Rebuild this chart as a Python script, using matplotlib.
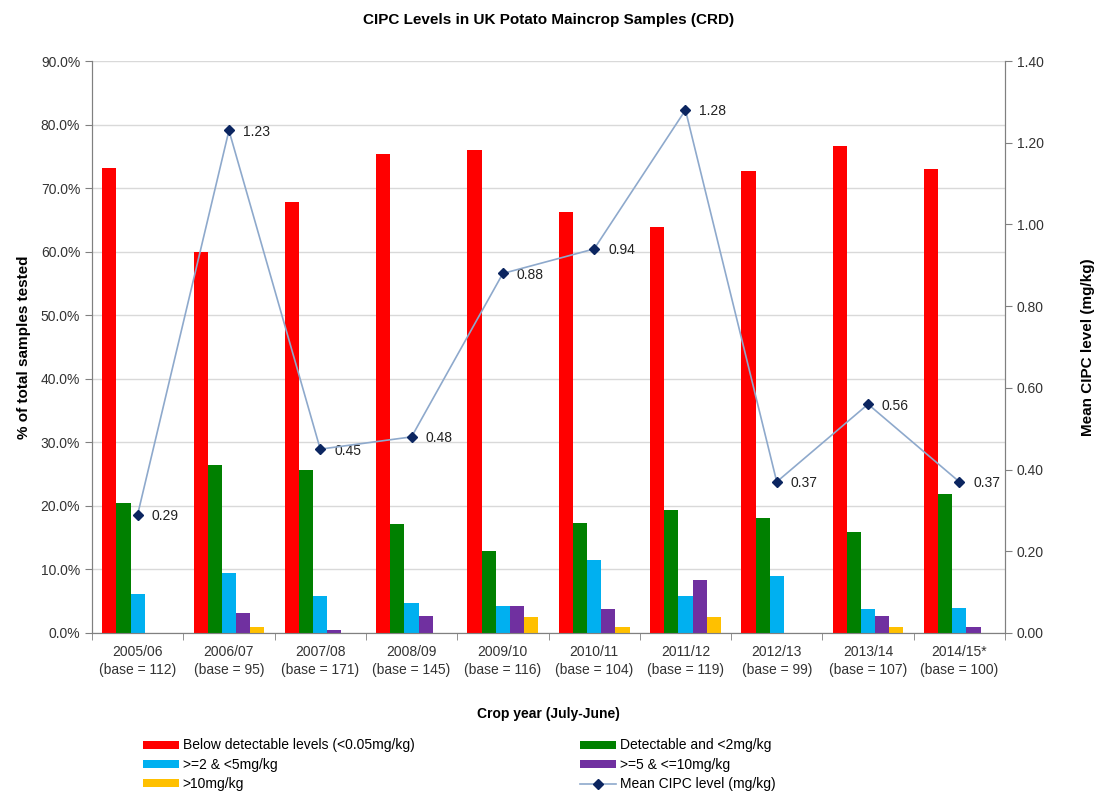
import matplotlib.pyplot as plt
import numpy as np

plt.rcParams['font.family'] = ['Liberation Sans', 'DejaVu Sans']

years = ["2005/06\n(base = 112)", "2006/07\n(base = 95)", "2007/08\n(base = 171)",
         "2008/09\n(base = 145)", "2009/10\n(base = 116)", "2010/11\n(base = 104)",
         "2011/12\n(base = 119)", "2012/13\n(base = 99)", "2013/14\n(base = 107)",
         "2014/15*\n(base = 100)"]

below = [73.2, 60.0, 67.8, 75.3, 76.0, 66.3, 63.9, 72.7, 76.6, 73.0]
detect_lt2 = [20.5, 26.4, 25.7, 17.1, 12.9, 17.3, 19.3, 18.1, 15.9, 21.9]
ge2_lt5 = [6.1, 9.4, 5.8, 4.7, 4.2, 11.5, 5.8, 9.0, 3.7, 3.9]
ge5_le10 = [0.0, 3.1, 0.5, 2.7, 4.2, 3.8, 8.3, 0.0, 2.7, 0.9]
gt10 = [0.0, 1.0, 0.0, 0.0, 2.5, 0.9, 2.5, 0.0, 0.9, 0.0]
mean_cipc = [0.29, 1.23, 0.45, 0.48, 0.88, 0.94, 1.28, 0.37, 0.56, 0.37]

series = [
    (below, "#FF0000", "Below detectable levels (<0.05mg/kg)"),
    (detect_lt2, "#008000", "Detectable and <2mg/kg"),
    (ge2_lt5, "#00B0F0", ">=2 & <5mg/kg"),
    (ge5_le10, "#7030A0", ">=5 & <=10mg/kg"),
    (gt10, "#FFC000", ">10mg/kg"),
]

fig = plt.figure(figsize=(10.98, 7.95), dpi=100)
ax = fig.add_axes([92 / 1098, 1 - 633 / 795, (1005 - 92) / 1098, (633 - 61) / 795])

x = np.arange(len(years))
w = 0.155
bars = {}
for i, (vals, col, lab) in enumerate(series):
    bars[lab] = ax.bar(x + (i - 2) * w, vals, w, color=col, label=lab, zorder=3)

ax.set_xlim(-0.5, len(years) - 0.5)
ax.set_ylim(0, 90)
ax.set_yticks(np.arange(0, 91, 10))
ax.set_yticklabels([f"{v:.1f}%" for v in np.arange(0, 91, 10)])
ax.yaxis.grid(True, color="#D9D9D9", linewidth=1, zorder=0)
ax.set_xticks(x)
ax.set_xticklabels(years, fontsize=10, color="#333333", linespacing=1.3)
ax.set_xticks(np.arange(-0.5, len(years), 1), minor=True)
ax.tick_params(axis="x", which="major", length=0, pad=9)
ax.tick_params(axis="x", which="minor", length=5, color="#808080")
ax.tick_params(axis="y", length=5, color="#808080", labelsize=10, labelcolor="#333333")
for s in ["left", "bottom", "right"]:
    ax.spines[s].set_color("#808080")
ax.spines["top"].set_visible(False)
ax.set_ylabel("% of total samples tested", fontsize=11, fontweight="bold", labelpad=7)
ax.set_xlabel("Crop year (July-June)", fontsize=10, fontweight="bold", labelpad=22)
ax.set_title("CIPC Levels in UK Potato Maincrop Samples (CRD)", fontsize=11,
             fontweight="bold", pad=27)

ax2 = ax.twinx()
line, = ax2.plot(x, mean_cipc, color="#8EA9CC", linewidth=1.2, marker="D",
                 markersize=5.5, markerfacecolor="#0B2560", markeredgecolor="#0B2560",
                 label="Mean CIPC level (mg/kg)", zorder=4)
for xi, v in zip(x, mean_cipc):
    ax2.annotate(f"{v:.2f}", (xi, v), xytext=(10, -1), textcoords="offset points",
                 fontsize=10, color="#222222", va="center")
ax2.set_ylim(0, 1.4)
ax2.set_yticks(np.arange(0, 1.41, 0.2))
ax2.set_yticklabels([f"{v:.2f}" for v in np.arange(0, 1.41, 0.2)])
ax2.tick_params(axis="y", length=5, color="#808080", labelsize=10, labelcolor="#333333")
for s in ["left", "bottom", "right"]:
    ax2.spines[s].set_color("#808080")
ax2.spines["top"].set_visible(False)
ax2.set_ylabel("Mean CIPC level (mg/kg)", fontsize=11, fontweight="bold", labelpad=27)

handles = [bars[series[0][2]], bars[series[2][2]], bars[series[4][2]],
           bars[series[1][2]], bars[series[3][2]], line]
labels = [series[0][2], series[2][2], series[4][2], series[1][2], series[3][2],
          "Mean CIPC level (mg/kg)"]
fig.legend(handles, labels, ncol=2, loc="upper left", bbox_to_anchor=(130 / 1098, 1 - 726 / 795),
           frameon=False, fontsize=10, handlelength=2.6, handleheight=0.5,
           handletextpad=0.3, columnspacing=11.9, labelspacing=0.38)

fig.savefig("out.png", dpi=100)
